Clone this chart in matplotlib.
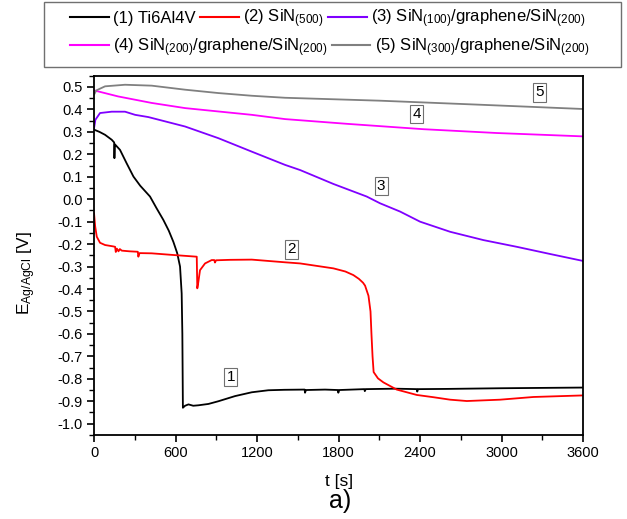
import matplotlib
matplotlib.use("Agg")
import matplotlib.pyplot as plt
from matplotlib.patches import Rectangle
from matplotlib.ticker import MultipleLocator, FormatStrFormatter

plt.rcParams['font.family'] = ['Liberation Sans', 'DejaVu Sans']
plt.rcParams['mathtext.fontset'] = 'custom'
plt.rcParams['mathtext.rm'] = 'Liberation Sans'
plt.rcParams['mathtext.it'] = 'Liberation Sans'

# (1) Ti6Al4V substrate
t1 = [0, 40, 81, 130, 148, 150, 153, 191, 240, 290, 340, 412, 460, 510, 550, 584, 612,
      633, 645, 650, 654, 670, 695, 730, 768, 842, 915, 1038, 1161, 1283, 1400,
      1550, 1553, 1560, 1700, 1795, 1798, 1805, 1990, 1993, 2000, 2218, 2376, 2379, 2385,
      2600, 3000, 3600]
e1 = [0.31, 0.30, 0.287, 0.265, 0.253, 0.183, 0.245, 0.22, 0.16, 0.101, 0.06, 0.012, -0.04,
      -0.092, -0.14, -0.19, -0.24, -0.30, -0.42, -0.6, -0.929, -0.92, -0.914,
      -0.92, -0.918, -0.912, -0.9, -0.877, -0.86, -0.851, -0.849, -0.848, -0.862, -0.85,
      -0.848, -0.85, -0.862, -0.85, -0.846, -0.855, -0.846, -0.844, -0.846, -0.857, -0.846,
      -0.845, -0.842, -0.839]

# (2) SiN(500)
t2 = [0, 8, 20, 44, 81, 140, 155, 160, 168, 180, 190, 204, 260, 322, 326, 335, 424, 596,
      756, 760, 765, 780, 817, 866, 885, 890, 898, 1000, 1161, 1406, 1517, 1762, 1850, 1909,
      1950, 1980, 1995, 2020, 2035, 2042, 2050, 2058, 2090, 2130, 2228, 2376, 2498, 2621,
      2744, 2989, 3234, 3600]
e2 = [-0.063, -0.12, -0.167, -0.194, -0.204, -0.21, -0.212, -0.235, -0.22, -0.232, -0.222,
      -0.229, -0.232, -0.234, -0.256, -0.24, -0.241, -0.249, -0.256, -0.397, -0.38, -0.316,
      -0.286, -0.271, -0.271, -0.282, -0.272, -0.27, -0.269, -0.281, -0.286, -0.308, -0.322,
      -0.338, -0.355, -0.372, -0.385, -0.43, -0.5, -0.6, -0.7, -0.77, -0.798, -0.816, -0.848,
      -0.872, -0.882, -0.893, -0.899, -0.893, -0.881, -0.874]

# (3) SiN(100)/graphene/SiN(200)
t3 = [0, 10, 44, 130, 228, 302, 400, 670, 915, 1161, 1406, 1517, 1762, 2007, 2105, 2253,
      2400, 2621, 2866, 3112, 3357, 3600]
e3 = [0.317, 0.354, 0.384, 0.39, 0.39, 0.376, 0.366, 0.324, 0.272, 0.212, 0.153, 0.13,
      0.068, 0.012, -0.018, -0.055, -0.1, -0.145, -0.182, -0.212, -0.244, -0.275]

# (4) SiN(200)/graphene/SiN(200)
t4 = [0, 177, 424, 670, 915, 1161, 1406, 1860, 2424, 2964, 3600]
e4 = [0.485, 0.458, 0.429, 0.406, 0.391, 0.376, 0.357, 0.336, 0.312, 0.295, 0.28]

# (5) SiN(300)/graphene/SiN(200)
t5 = [0, 17, 81, 228, 424, 670, 915, 1161, 1406, 2105, 2842, 3600]
e5 = [0.466, 0.485, 0.503, 0.51, 0.506, 0.488, 0.473, 0.461, 0.452, 0.439, 0.421, 0.402]

labels = ['(1) Ti6Al4V',
          r'(2) SiN$_{\mathregular{(500)}}$',
          r'(3) SiN$_{\mathregular{(100)}}$/graphene/SiN$_{\mathregular{(200)}}$',
          r'(4) SiN$_{\mathregular{(200)}}$/graphene/SiN$_{\mathregular{(200)}}$',
          r'(5) SiN$_{\mathregular{(300)}}$/graphene/SiN$_{\mathregular{(200)}}$']
colors = ['#000000', '#ff0000', '#7f00ff', '#ff00ff', '#808080']

# curve tags: text, t, E
tags = ['1', '2', '3', '4', '5']
tag_t = [1006, 1455, 2113, 2376, 3279]
tag_e = [-0.792, -0.223, 0.059, 0.379, 0.476]

fig = plt.figure(figsize=(6.27, 5.19), dpi=100)
ax = fig.add_axes([0.150, 0.162, 0.780, 0.692])

lines = []
for t, e, c in zip([t1, t2, t3, t4, t5], [e1, e2, e3, e4, e5], colors):
    ln, = ax.plot(t, e, color=c, lw=1.3)
    lines.append(ln)

for s, x, y in zip(tags, tag_t, tag_e):
    ax.text(x, y, s, fontsize=11, ha='center', va='center',
            bbox=dict(boxstyle='square,pad=0.15', fc='white', ec='#707070', lw=0.8))

ax.set_xlim(0, 3600)
ax.set_ylim(-1.05, 0.55)
ax.xaxis.set_major_locator(MultipleLocator(600))
ax.xaxis.set_minor_locator(MultipleLocator(300))
ax.yaxis.set_major_locator(MultipleLocator(0.1))
ax.yaxis.set_minor_locator(MultipleLocator(0.05))
ax.yaxis.set_major_formatter(FormatStrFormatter('%.1f'))
ax.tick_params(which='major', direction='out', length=5, width=1.2, labelsize=10.5, pad=3)
ax.tick_params(which='minor', direction='out', length=3.5, width=1.0)
for sp in ax.spines.values():
    sp.set_linewidth(1.3)

ax.set_xlabel('t [s]', fontsize=12.5, labelpad=10)
ax.set_ylabel(r'E$_{\mathregular{Ag/AgCl}}$ [V]', fontsize=12.5)
ax.yaxis.set_label_coords(-0.115, 0.45)
fig.text(0.542, 0.034, 'a)', fontsize=18, ha='center', va='center')

# legend: two rows, frame drawn separately
leg_kw = dict(frameon=False, fontsize=12, handlelength=2.3, handletextpad=0.25,
              columnspacing=0.3, borderpad=0, borderaxespad=0, loc='upper left')
leg1 = fig.legend(lines[:3], labels[:3], ncol=3, bbox_to_anchor=(0.112, 0.985), **leg_kw)
leg2 = fig.legend(lines[3:], labels[3:], ncol=2, bbox_to_anchor=(0.112, 0.93), **leg_kw)
for leg in (leg1, leg2):
    for h in leg.legend_handles:
        h.set_linewidth(1.5)
fig.patches.append(Rectangle((0.070, 0.870), 0.920, 0.126, transform=fig.transFigure,
                             fill=False, ec='#707070', lw=1.0))

fig.savefig('out.png', dpi=100)
